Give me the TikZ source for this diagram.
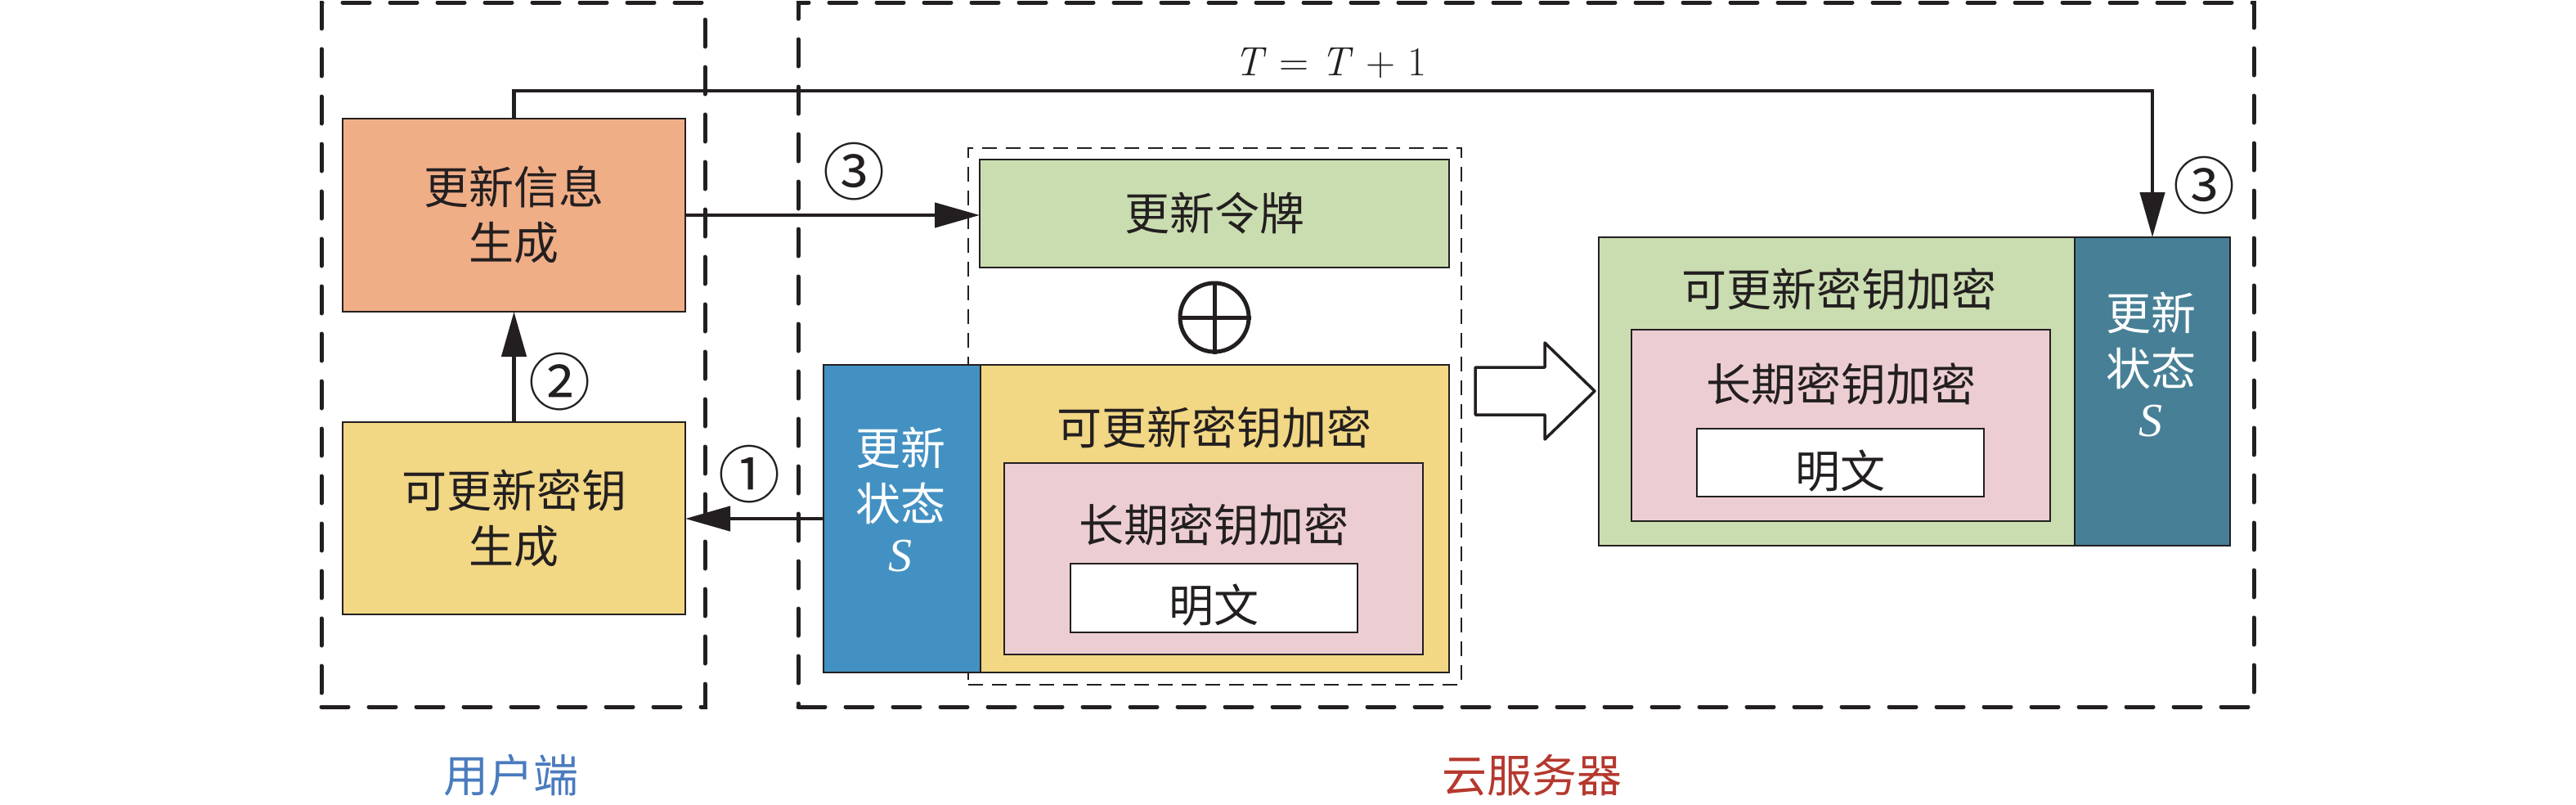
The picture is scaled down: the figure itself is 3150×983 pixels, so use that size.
\documentclass[tikz,border=0pt]{standalone}
\usepackage{fontspec}
\newfontfamily\cjk{Noto Sans CJK SC}
\newfontfamily\tms{Liberation Serif}
\usetikzlibrary{arrows.meta}
\definecolor{salmon}{HTML}{F0AE87}
\definecolor{ylw}{HTML}{F2D784}
\definecolor{grn}{HTML}{CADDB0}
\definecolor{pnk}{HTML}{ECCED2}
\definecolor{blu}{HTML}{4391C2}
\definecolor{tel}{HTML}{478096}
\definecolor{ink}{HTML}{231F20}
\definecolor{userblue}{HTML}{4A7BBE}
\definecolor{cloudred}{HTML}{B5382E}
\tikzset{
  box/.style={draw=ink, line width=1.6pt, inner sep=0pt, outer sep=0pt, align=center,
    font=\cjk\fontsize{55}{68}\selectfont, text=ink},
  lbl/.style={inner sep=0pt, font=\cjk\fontsize{55}{68}\selectfont, text=ink, align=center},
  num/.style={inner sep=0pt, font=\cjk\fontsize{76}{80}\selectfont, text=ink},
  svar/.style={inner sep=0pt, text=white, font=\tms\fontsize{58}{60}\selectfont\itshape},
  conn/.style={draw=ink, line width=4.5pt, -{Triangle[length=55pt,width=30pt]}},
  groupbox/.style={draw=ink, line width=5pt, dash pattern=on 33pt off 25pt, line cap=round,
    inner sep=0pt, outer sep=0pt},
  innerdash/.style={draw=ink, line width=2.5pt, dash pattern=on 18pt off 11pt, inner sep=0pt, outer sep=0pt},
  blockarrow/.style={draw=ink, line width=3.5pt, fill=white, line join=round},
}
\begin{document}
\begin{tikzpicture}[x=1pt,y=-1pt]
\useasboundingbox (0,0) rectangle (3150,983);
% group frames
\node[groupbox, minimum width=469pt, minimum height=861pt] (user) at (627.5,433.5) {};
\node[groupbox, minimum width=1780pt, minimum height=861pt] (cloud) at (1866,433.5) {};
\node[innerdash, minimum width=603pt, minimum height=656pt] (xorgroup) at (1485.5,509) {};
% user side
\node[box, fill=salmon, minimum width=419pt, minimum height=236pt] (info) at (628.5,263) {更新信息\\生成};
\node[box, fill=ylw, minimum width=419pt, minimum height=235pt] (keygen) at (628.5,633.5) {可更新密钥\\生成};
% cloud, left group
\node[box, fill=grn, minimum width=574pt, minimum height=132pt] (token) at (1485,261) {更新令牌};
\node[draw=ink, circle, line width=5pt, minimum size=84pt, inner sep=0pt] (xor) at (1485,388) {};
\draw[ink, line width=5pt] (xor.north) -- (xor.south) (xor.west) -- (xor.east);
\node[box, fill=blu, minimum width=192pt, minimum height=376pt] (blues) at (1103,634) {};
\node[box, fill=ylw, minimum width=573pt, minimum height=376pt] (yenc) at (1485.5,634) {};
\node[box, fill=pnk, minimum width=512pt, minimum height=234pt] (lpink) at (1484,683) {};
\node[box, fill=white, minimum width=351pt, minimum height=84pt] (lplain) at (1484.5,731) {};
\node[lbl, text=white] (blt) at (1101,581.5) {更新\\状态};
\node[svar] (bls) at (1101,680) {S};
\node[lbl] (yencl) at (1485,522) {可更新密钥加密};
\node[lbl] (lpinkl) at (1484,641) {长期密钥加密};
\node[lbl] (lplainl) at (1484.5,740) {明文};
% block arrow
\draw[blockarrow] (1804,449) -- (1889,449) -- (1889,419) -- (1950,478) -- (1889,537) -- (1889,507) -- (1804,507) -- cycle;
% cloud, right group
\node[box, fill=grn, minimum width=582pt, minimum height=377pt] (rgreen) at (2246,478.5) {};
\node[box, fill=tel, minimum width=190pt, minimum height=377pt] (teal) at (2632,478.5) {};
\node[box, fill=pnk, minimum width=512pt, minimum height=234pt] (rpink) at (2251,520) {};
\node[box, fill=white, minimum width=351pt, minimum height=83pt] (rplain) at (2250.5,565.5) {};
\node[lbl] (rgreenl) at (2249,353) {可更新密钥加密};
\node[lbl] (rpinkl) at (2251,469) {长期密钥加密};
\node[lbl] (rplainl) at (2250.5,576) {明文};
\node[lbl, text=white] (rtt) at (2630,416.5) {更新\\状态};
\node[svar] (rts) at (2630,515) {S};
% connectors
\coordinate (ttop) at (628.5,111);
\draw[conn] (info.north) -- (info.north |- ttop) -| (teal.north);
\node[anchor=base, inner sep=0pt, text=ink, font=\fontsize{50}{60}\selectfont] (tlabel) at (1627,92) {\textit{T} = \textit{T} + 1};
\draw[conn] (keygen.north) -- (info.south);
\draw[conn] (blues.west) -- (blues.west -| keygen.east);
\draw[conn] (info.east) -- (info.east -| token.west);
\node[num] (n2) at (684,467) {②};
\node[num] (n1) at (916,580) {①};
\node[num] (n3a) at (1044,210) {③};
\node[num] (n3b) at (2695,227) {③};
% captions
\node[lbl, text=userblue] (ulabel) at (625,948) {用户端};
\node[lbl, text=cloudred] (clabel) at (1873,948) {云服务器};
\end{tikzpicture}
\end{document}
